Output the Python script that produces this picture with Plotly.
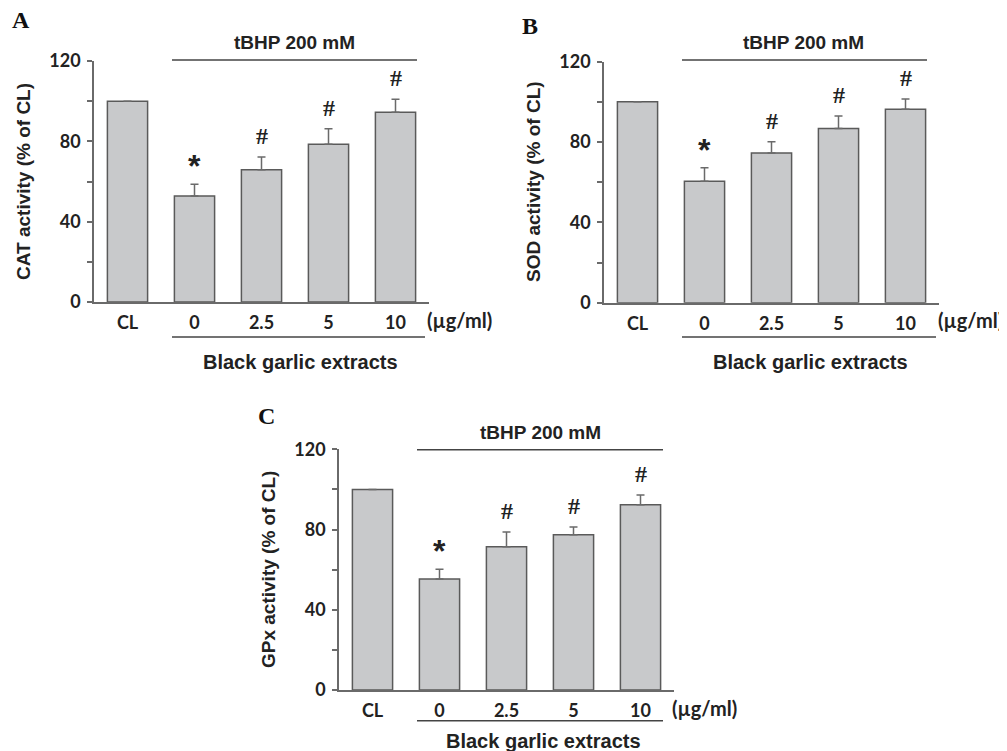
import plotly.graph_objects as go

W, H = 1007, 751
OFF = 8  # page body margin offset

categories = ["CL", "0", "2.5", "5", "10"]

cat_values = [100, 52.8, 65.9, 78.5, 94.5]
cat_errors = [0, 5.8, 6.3, 7.8, 6.4]
cat_marks = ["", "*", "#", "#", "#"]

sod_values = [100, 60.5, 74.5, 86.7, 96.3]
sod_errors = [0, 6.7, 5.7, 6.3, 5.1]
sod_marks = ["", "*", "#", "#", "#"]

gpx_values = [100, 55.3, 71.4, 77.4, 92.4]
gpx_errors = [0, 4.9, 7.4, 3.9, 4.8]
gpx_marks = ["", "*", "#", "#", "#"]

y_ticks = [0, 20, 40, 60, 80, 100, 120]
y_ticktext = ["0", "", "40", "", "80", "", "120"]


def px(x):
    return (x - OFF) / W


def py(y):
    return 1 - (y - OFF) / H


BAR_FILL = "#c8c9cb"
EDGE = "#5a5a5a"
AXIS = "#6a6a6a"
SANS = "Liberation Sans"
TICKFONT = "Lato"

panels = [
    dict(vals=cat_values, errs=cat_errors, marks=cat_marks, title="CAT activity (% of CL)",
         x0=94, x1=429, y0=302, y1=61, label="A", lab=(21, 20), ytx=23, yty=182,
         tl=(172, 417, 60), tt=(294, 42), bl=(172, 425, 337), bt=(300, 362), ut=(459, 320)),
    dict(vals=sod_values, errs=sod_errors, marks=sod_marks, title="SOD activity (% of CL)",
         x0=604, x1=939, y0=302.7, y1=61.7, label="B", lab=(530, 26), ytx=533, yty=182,
         tl=(682, 927, 60), tt=(803, 42), bl=(682, 936, 337), bt=(810, 362), ut=(970, 320)),
    dict(vals=gpx_values, errs=gpx_errors, marks=gpx_marks, title="GPx activity (% of CL)",
         x0=339, x1=674, y0=690, y1=449.3, label="C", lab=(266, 416), ytx=268, yty=570,
         tl=(417, 663, 449.7), tt=(540, 432), bl=(417, 663, 720.7), bt=(543, 741), ut=(704, 708)),
]

fig = go.Figure()
shapes = []
annotations = []


def ann(x, y, text, font, **kw):
    d = dict(x=px(x), y=py(y), xref="paper", yref="paper", text=text, showarrow=False,
             xanchor="center", yanchor="middle", font=font)
    d.update(kw)
    annotations.append(d)


for i, p in enumerate(panels, start=1):
    xa = "x" if i == 1 else f"x{i}"
    ya = "y" if i == 1 else f"y{i}"
    fig.add_trace(go.Bar(
        x=categories, y=p["vals"], xaxis=xa, yaxis=ya, width=0.6,
        marker=dict(color=BAR_FILL, line=dict(color=EDGE, width=1.5)),
        error_y=dict(type="data", symmetric=False, array=p["errs"],
                     arrayminus=[0] * len(p["errs"]), color=AXIS, thickness=1.5, width=4,
                     visible=True),
        showlegend=False, hoverinfo="skip",
    ))
    xkey = "xaxis" if i == 1 else f"xaxis{i}"
    ykey = "yaxis" if i == 1 else f"yaxis{i}"
    fig.layout[xkey] = dict(
        domain=[px(p["x0"]), px(p["x1"])], anchor=ya, type="category",
        range=[-0.5, 4.5], showline=True, linecolor=AXIS, linewidth=1.5,
        ticks="", showgrid=False, zeroline=False, automargin=False,
        tickfont=dict(family=TICKFONT, size=18, color="#222", weight="bold"),
        ticklabelstandoff=4,
    )
    fig.layout[ykey] = dict(
        domain=[py(p["y0"]), py(p["y1"])], anchor=xa, range=[0, 120],
        showline=True, linecolor=AXIS, linewidth=1.5, ticks="outside", ticklen=5,
        tickcolor=AXIS, tickwidth=1.5, tickvals=y_ticks, ticktext=y_ticktext,
        showgrid=False, zeroline=False, automargin=False,
        tickfont=dict(family=TICKFONT, size=18, color="#222", weight="bold"),
        ticklabelstandoff=3,
    )
    for idx, (v, e, m) in enumerate(zip(p["vals"], p["errs"], p["marks"])):
        if m:
            annotations.append(dict(
                x=idx, y=v + e, xref=xa, yref=ya, text=f"<b>{m}</b>",
                showarrow=False, xanchor="center", yanchor="bottom",
                yshift=-2 if m == "*" else 6,
                font=dict(family="Liberation Serif" if m == "#" else SANS,
                          size=24 if m == "#" else 32, color="#222"),
            ))
    ann(p["ytx"], p["yty"], f"<b>{p['title']}</b>",
        dict(family=SANS, size=19, color="#222"), textangle=-90)
    ann(p["lab"][0], p["lab"][1], f"<b>{p['label']}</b>",
        dict(family="Liberation Serif", size=24, color="#111"))
    x0, x1, yl = p["tl"]
    shapes.append(dict(type="line", xref="paper", yref="paper",
                       x0=px(x0), x1=px(x1), y0=py(yl), y1=py(yl),
                       line=dict(color="#444", width=1.5)))
    ann(p["tt"][0], p["tt"][1], "<b>tBHP 200 mM</b>", dict(family=SANS, size=19, color="#222"))
    x0, x1, yl = p["bl"]
    shapes.append(dict(type="line", xref="paper", yref="paper",
                       x0=px(x0), x1=px(x1), y0=py(yl), y1=py(yl),
                       line=dict(color="#444", width=1.5)))
    ann(p["bt"][0], p["bt"][1], "<b>Black garlic extracts</b>",
        dict(family=SANS, size=20, color="#222"))
    ann(p["ut"][0], p["ut"][1], "(µg/ml)",
        dict(family=TICKFONT, size=20, color="#222", weight="bold"))

fig.update_layout(
    width=W, height=H, margin=dict(l=0, r=0, t=0, b=0, autoexpand=False),
    paper_bgcolor="white", plot_bgcolor="white",
    shapes=shapes, annotations=annotations, bargap=0.4,
)

fig.write_html("out.html")
